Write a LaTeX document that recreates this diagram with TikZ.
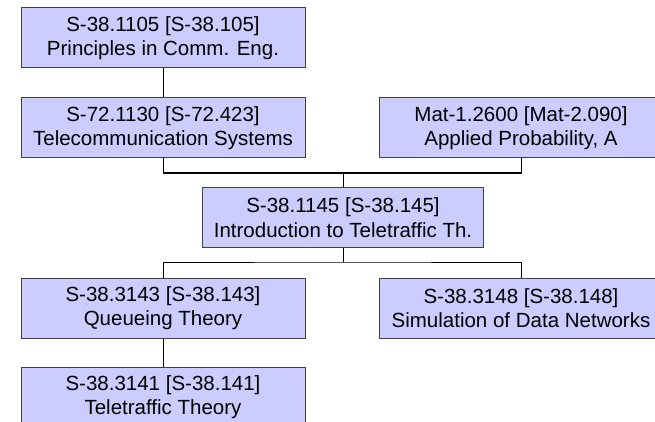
\documentclass[tikz,border=0pt]{standalone}
\usepackage{fontspec}
\setmainfont{Liberation Sans}
\definecolor{coursefill}{RGB}{204,204,255}

\begin{document}
\begin{tikzpicture}[x=1pt,y=-1pt,line width=1pt,
			course node/.style={rectangle,draw=black!75,fill=coursefill,align=center,
			inner sep=0pt,minimum width=284pt,minimum height=60pt,
			font=\fontsize{20.5}{24.5}\selectfont}]
			\useasboundingbox (0,0) rectangle (655,422);
			\clip (0,0) rectangle (655,422);
			\node[course node] (prin) at (163,38) {S-38.1105 [S-38.105]\\Principles in Comm. Eng.};
			\node[course node] (tele) at (163,128) {S-72.1130 [S-72.423]\\Telecommunication Systems};
			\node[course node] (prob) at (521,128) {Mat-1.2600 [Mat-2.090]\\Applied Probability, A};
			\node[course node,minimum width=281pt] (intro) at (343,217.5) {S-38.1145 [S-38.145]\\Introduction to Teletraffic Th.};
			\node[course node] (queue) at (163,308) {S-38.3143 [S-38.143]\\Queueing Theory};
			\node[course node] (simu) at (521,308) {S-38.3148 [S-38.148]\\Simulation of Data Networks};
			\node[course node] (traf) at (163,397) {S-38.3141 [S-38.141]\\Teletraffic Theory};
			\coordinate (up) at (343,173);
			\coordinate (down) at (343,262);
			\draw (prin) -- (tele);
			\draw (tele.south) |- (up) -| (prob.south);
			\draw (intro.north) -- (up);
			\draw (queue.north) |- (down) -| (simu.north);
			\draw (intro.south) -- (down);
			\draw (queue) -- (traf);
\end{tikzpicture}
\end{document}
